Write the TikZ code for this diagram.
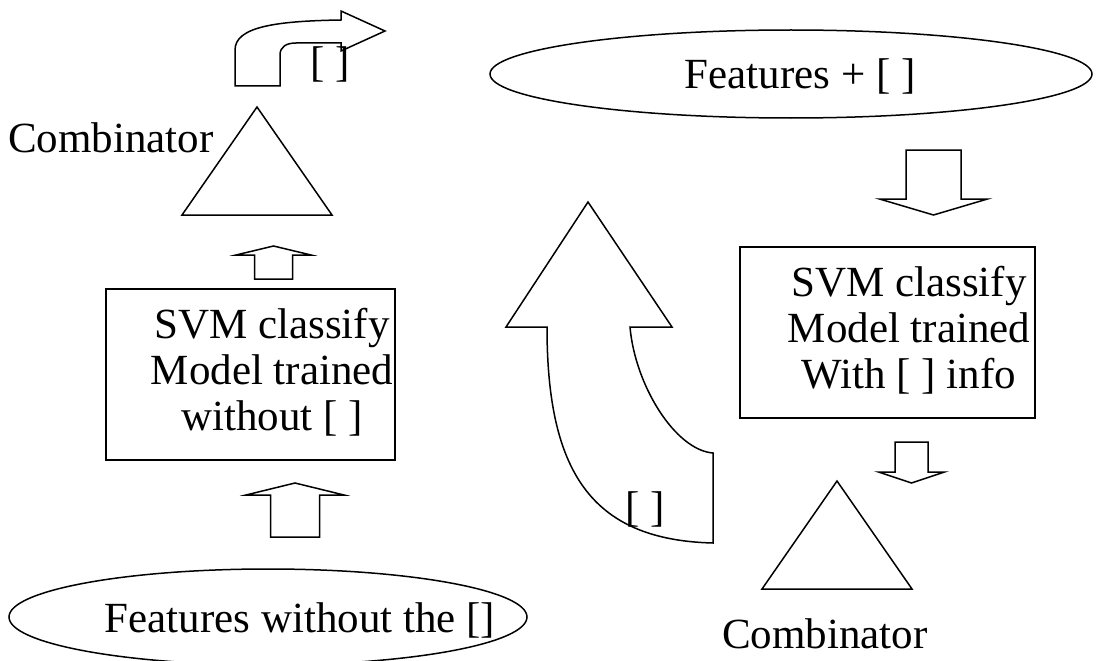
\documentclass[tikz,border=0pt]{standalone}
\usepackage{fontspec}
\setmainfont{Liberation Serif}
\usetikzlibrary{shapes.geometric}
\newcommand{\diagfont}{\fontsize{43}{46}\selectfont}
% block arrow: centre x, tip y, head base y, tail y, half head width, half shaft width
\newcommand{\drawblockarrow}[6]{
	\draw[shapeline] (#1,#2) -- ({#1+#5},#3) -- ({#1+#6},#3) -- ({#1+#6},#4)
		-- ({#1-#6},#4) -- ({#1-#6},#3) -- ({#1-#5},#3) -- cycle;
}
\tikzset{
	shapeline/.style={draw=black, line width=1.5pt, line join=miter},
	caption/.style={inner sep=0pt, font=\diagfont, align=center}
}

\begin{document}
\begin{tikzpicture}[x=1pt, y=-1pt]
		\useasboundingbox (0,0) rectangle (1096,661);
		% ellipses
		\node[shapeline, ellipse, minimum width=602, minimum height=88, inner sep=0pt] (featwith) at (791,74) {};
		\node[caption] (featwithtext) at (800,76) {Features + [ ]};
		\node[shapeline, ellipse, minimum width=518, minimum height=96, inner sep=0pt] (featwithout) at (268,617) {};
		\node[caption] (featwithouttext) at (300,620) {Features without the []};
		% classifier boxes
		\node[shapeline, minimum width=289, minimum height=171, inner sep=0pt] (svmleft) at (250.5,374.5) {};
		\node[caption] (svmlefttext) at (272,372) {SVM classify\\Model trained\\without [ ]};
		\node[shapeline, minimum width=295, minimum height=171, inner sep=0pt] (svmright) at (887.5,332.5) {};
		\node[caption] (svmrighttext) at (909,330) {SVM classify\\Model trained\\With [ ] info};
		% combinators
		\draw[shapeline] (257,107) -- (332,215) -- (182,215) -- cycle;
		\node[caption] (combtop) at (111,137.5) {Combinator};
		\draw[shapeline] (837,481) -- (912,589) -- (762,589) -- cycle;
		\node[caption] (combbottom) at (825,633.5) {Combinator};
		% straight block arrows
		\drawblockarrow{273.5}{246}{255}{279}{37.5}{19}
		\drawblockarrow{295}{483}{495}{537}{49}{24.5}
		\drawblockarrow{933.5}{215}{199}{150}{54}{27.5}
		\drawblockarrow{911.5}{483}{472}{442}{33}{16.5}
		% bent arrow
		\draw[shapeline] (235,86) -- (235,50) .. controls (235,27) and (275,21) .. (341,20)
			-- (341,11) -- (385,31) -- (341,51) -- (341,43) -- (296,43)
			.. controls (286,43) and (280,47) .. (280,55) -- (280,86) -- cycle;
		\node[caption] (bentlabel) at (330,64) {[ ]};
		% curved arrow
		\draw[shapeline] (588,202) -- (672,327) -- (630,327)
			.. controls (635,385) and (675,450) .. (713,453) -- (713,543)
			.. controls (590,540) and (547,470) .. (547,327) -- (506,327) -- cycle;
		\node[caption] (curvedlabel) at (645,509) {[ ]};
	\end{tikzpicture}
\end{document}
